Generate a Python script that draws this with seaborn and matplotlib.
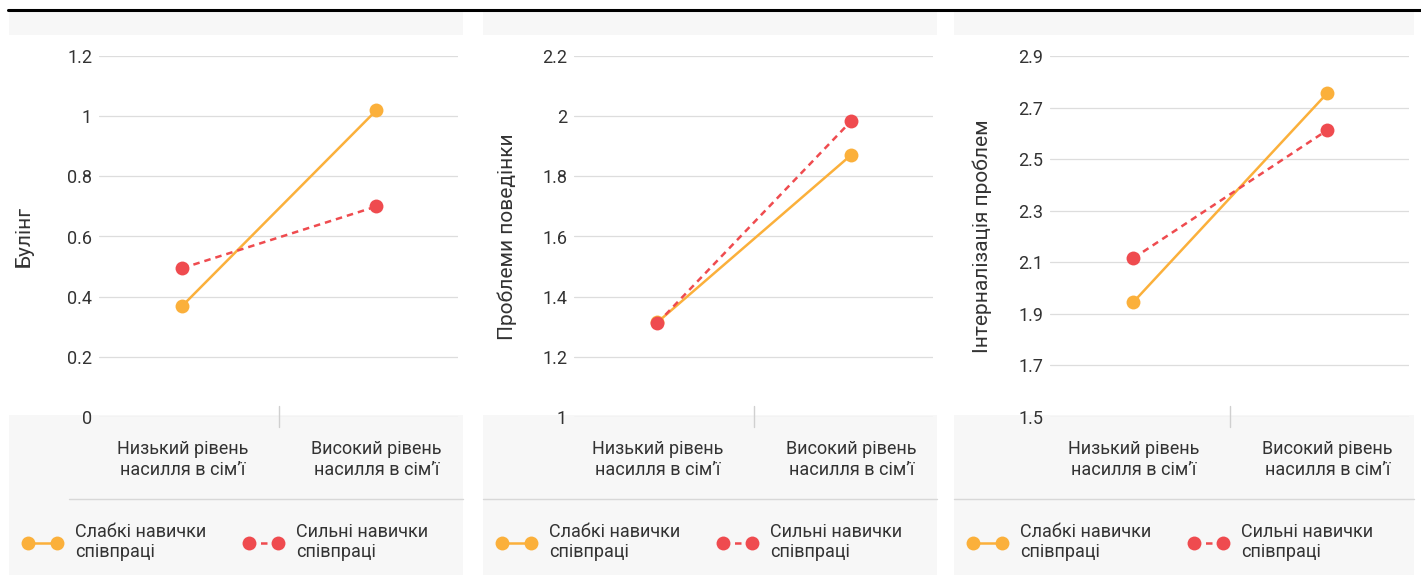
import numpy as np
import pandas as pd
import matplotlib
matplotlib.use("Agg")
import matplotlib.pyplot as plt
import seaborn as sns
from matplotlib.patches import Rectangle
from matplotlib.lines import Line2D

# ---------------- data ----------------
categories = ["Низький рівень\nнасилля в сім’ї", "Високий рівень\nнасилля в сім’ї"]
series_names = ["Слабкі навички\nспівпраці", "Сильні навички\nспівпраці"]
ylabels = ["Булінг", "Проблеми поведінки", "Інтерналізація проблем"]

bullying_weak = [0.37, 1.02]
bullying_strong = [0.495, 0.70]
behaviour_weak = [1.315, 1.872]
behaviour_strong = [1.312, 1.985]
internal_weak = [1.946, 2.757]
internal_strong = [2.116, 2.613]

yticks_1 = [0, 0.2, 0.4, 0.6, 0.8, 1, 1.2]
yticks_2 = [1, 1.2, 1.4, 1.6, 1.8, 2, 2.2]
yticks_3 = [1.5, 1.7, 1.9, 2.1, 2.3, 2.5, 2.7, 2.9]

panels = [
    (ylabels[0], bullying_weak, bullying_strong, yticks_1),
    (ylabels[1], behaviour_weak, behaviour_strong, yticks_2),
    (ylabels[2], internal_weak, internal_strong, yticks_3),
]

# ---------------- style ----------------
sns.set_theme(style="white")
plt.rcParams["font.family"] = ["Roboto", "DejaVu Sans"]
FS = 13
TXT = "#333333"
ORANGE = "#fbb03b"
RED = "#ef4b4f"
BG = "#f7f7f7"
GRID = "#dddddd"

W, H = 1421, 575
fig = plt.figure(figsize=(W / 100, H / 100), dpi=100)
fig.patch.set_facecolor("white")


def fx(px):
    return px / W


def fy(py):
    return 1 - py / H


panel_left = [9, 483, 954]
panel_right = [463, 937, 1414]
grid_left = [99, 574, 1050]
sep_left = [69, 483, 954]
grid_w = 359
ax_top, ax_bot = 56, 417
label_x = [-0.184, -0.159, -0.162]

# top black rule
fig.add_artist(Line2D([fx(8), 1.0], [fy(9.5), fy(9.5)], color="black", lw=2.2,
                      transform=fig.transFigure))

for i, (ylab, weak, strong, yt) in enumerate(panels):
    pl, pr = panel_left[i], panel_right[i]
    # gray strips
    fig.add_artist(Rectangle((fx(pl), fy(35)), (pr - pl) / W, 24 / H,
                             transform=fig.transFigure, facecolor=BG,
                             edgecolor="none", zorder=-10))
    fig.add_artist(Rectangle((fx(pl), 0), (pr - pl) / W, fy(415),
                             transform=fig.transFigure, facecolor=BG,
                             edgecolor="none", zorder=-10))
    fig.add_artist(Line2D([fx(sep_left[i]), fx(pr)], [fy(499), fy(499)],
                          color="#d8d8d8", lw=1.0, transform=fig.transFigure,
                          zorder=-5))

    ax = fig.add_axes([fx(grid_left[i]), fy(ax_bot), grid_w / W,
                       (ax_bot - ax_top) / H])
    ax.set_facecolor("none")

    df = pd.DataFrame({
        "x": [0, 1, 0, 1],
        "value": list(weak) + list(strong),
        "series": [series_names[0]] * 2 + [series_names[1]] * 2,
    })
    sns.lineplot(data=df, x="x", y="value", hue="series", style="series",
                 palette={series_names[0]: ORANGE, series_names[1]: RED},
                 dashes={series_names[0]: "", series_names[1]: (2.6, 2.0)},
                 markers={series_names[0]: "o", series_names[1]: "o"},
                 markersize=10, markeredgewidth=0, linewidth=1.8,
                 ax=ax, legend=True, sort=False, zorder=3)
    for ln in ax.lines:
        ln.set_clip_on(False)

    ax.set_xlim(-0.43, 1.42)
    ax.set_ylim(yt[0], yt[-1])
    ax.set_yticks(yt)
    ax.set_yticklabels([f"{v:g}" for v in yt])
    ax.set_xticks([0, 1])
    ax.set_xticklabels(categories)
    ax.tick_params(axis="y", length=0, pad=5, labelsize=FS, labelcolor=TXT)
    ax.tick_params(axis="x", length=0, pad=16.5, labelsize=FS, labelcolor=TXT)
    ax.set_xlabel("")
    ax.set_ylabel(ylab, fontsize=15, color=TXT)
    ax.yaxis.set_label_coords(label_x[i], 0.5)
    ax.grid(axis="y", color=GRID, lw=0.9)
    ax.grid(axis="x", visible=False)
    ax.set_axisbelow(True)
    for s in ax.spines.values():
        s.set_visible(False)

    # small vertical separator between categories
    ax.plot([0.5, 0.5], [-10 / 361, 11 / 361], transform=ax.get_xaxis_transform(),
            color="#d0d0d0", lw=1.0, clip_on=False)

    handles, labels = ax.get_legend_handles_labels()
    ax.get_legend().remove()
    fig.legend(handles, labels, loc="center left",
               bbox_to_anchor=(fx(pl + 14), fy(542)), ncol=2, frameon=False,
               numpoints=2, handlelength=2.17, handletextpad=0.7,
               columnspacing=2.1, borderpad=0, borderaxespad=0,
               fontsize=FS, labelcolor=TXT)

fig.savefig("out.png", dpi=100)
